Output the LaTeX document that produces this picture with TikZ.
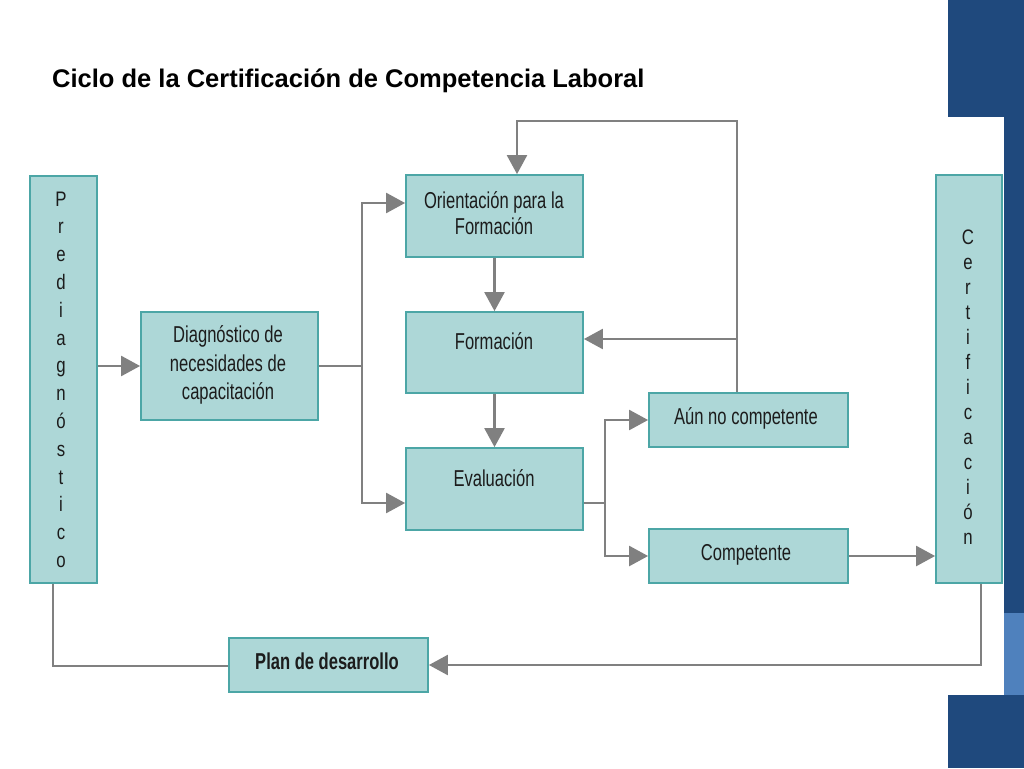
\documentclass[tikz,border=0pt]{standalone}
\usepackage{fontspec}
\setmainfont{Liberation Sans}
\newfontfamily\boxfont[FakeStretch=0.72]{Liberation Sans}
\newfontfamily\vfont[FakeStretch=0.8]{Liberation Sans}
\usetikzlibrary{arrows.meta}
\definecolor{boxfill}{RGB}{173,215,215}
\definecolor{boxline}{RGB}{76,166,166}
\definecolor{conncol}{RGB}{128,128,128}
\definecolor{navy}{RGB}{31,73,125}
\definecolor{lblue}{RGB}{79,129,189}
\definecolor{txt}{RGB}{28,28,28}
\begin{document}
\begin{tikzpicture}[x=1pt,y=-1pt,
  box/.style={draw=boxline, line width=1.8pt, fill=boxfill, inner sep=0pt},
  lbl/.style={font=\boxfont\fontsize{23}{26}\selectfont, text=txt, inner sep=0pt, anchor=base},
  vl/.style={font=\vfont\fontsize{21}{25}\selectfont, text=txt, inner sep=0pt, anchor=base},
  link/.style={draw=conncol, line width=2.4pt},
  arr/.style={link, -{Triangle[length=19pt,width=20pt]}}
]
\useasboundingbox (0,0) rectangle (1024,768);
\fill[white] (0,0) rectangle (1024,768);
% right decoration
\fill[navy] (948,0) rectangle (1024,117);
\fill[navy] (1004,117) rectangle (1024,613);
\fill[lblue] (1004,613) rectangle (1024,695);
\fill[navy] (948,695) rectangle (1024,768);

% title
\node[anchor=base west, inner sep=0pt, font=\bfseries\fontsize{25.5}{30}\selectfont] (title) at (52,87.5) {Ciclo de la Certificación de Competencia Laboral};

% boxes
\node[box, minimum width=67pt, minimum height=407pt] (pre) at (63.5,379.5) {};
\node[box, minimum width=177pt, minimum height=108pt] (diag) at (229.5,366) {};
\node[box, minimum width=177pt, minimum height=82pt] (orient) at (494.5,216) {};
\node[box, minimum width=177pt, minimum height=81pt] (form) at (494.5,352.5) {};
\node[box, minimum width=177pt, minimum height=82pt] (eval) at (494.5,489) {};
\node[box, minimum width=199pt, minimum height=54pt] (aun) at (748.5,420) {};
\node[box, minimum width=199pt, minimum height=54pt] (comp) at (748.5,556) {};
\node[box, minimum width=66pt, minimum height=408pt] (cert) at (969,379) {};
\node[box, minimum width=199pt, minimum height=54pt] (plan) at (328.5,665) {};

% labels
\node[lbl] (diag-t1) at (228,342.5) {Diagnóstico de};
\node[lbl] (diag-t2) at (228,371) {necesidades de};
\node[lbl] (diag-t3) at (228,399.5) {capacitación};
\node[lbl] (orient-t1) at (494,208) {Orientación para la};
\node[lbl] (orient-t2) at (494,234) {Formación};
\node[lbl] (form-t) at (494,349) {Formación};
\node[lbl] (eval-t) at (494,486) {Evaluación};
\node[lbl] (aun-t) at (746,424) {Aún no competente};
\node[lbl] (comp-t) at (746,560) {Competente};
\node[lbl, font=\boxfont\bfseries\fontsize{23}{26}\selectfont] (plan-t) at (327,669) {Plan de desarrollo};

\foreach \l [count=\i] in {P,r,e,d,i,a,g,n,ó,s,t,i,c,o}
  \node[vl] (pre-\i) at (61,{206+(\i-1)*27.8}) {\l};
\foreach \l [count=\i] in {C,e,r,t,i,f,i,c,a,c,i,ó,n}
  \node[vl] (cert-\i) at (968,{244+(\i-1)*25}) {\l};

% connectors
\coordinate (f1) at (362,366);
\coordinate (f2) at (605,503);
\coordinate (up) at (737,121);
\coordinate (fb) at (737,339);
\coordinate (low) at (53,666);
\draw[arr] (pre.east |- diag.west) -- (diag.west);
\draw[link] (diag.east) -- (f1);
\draw[arr] (f1) |- ([yshift=13pt]orient.west);
\draw[arr] (f1) |- ([yshift=-14pt]eval.west);
\draw[arr] (orient.south) -- (form.north);
\draw[arr] (form.south) -- (eval.north);
\draw[link] ([yshift=-14pt]eval.east) -- (f2);
\draw[arr] (f2) |- (aun.west);
\draw[arr] (f2) |- (comp.west);
\draw[arr] (aun.north -| up) -- (up) -| ([xshift=22.5pt]orient.north);
\draw[arr] (fb) -- ([yshift=13.5pt]form.east);
\draw[arr] (comp.east) -- (cert.west |- comp.east);
\draw[arr] ([xshift=12pt]cert.south) |- (plan.east);
\draw[link] (pre.south -| low) -- (low) -- (plan.west |- low);
\end{tikzpicture}
\end{document}
